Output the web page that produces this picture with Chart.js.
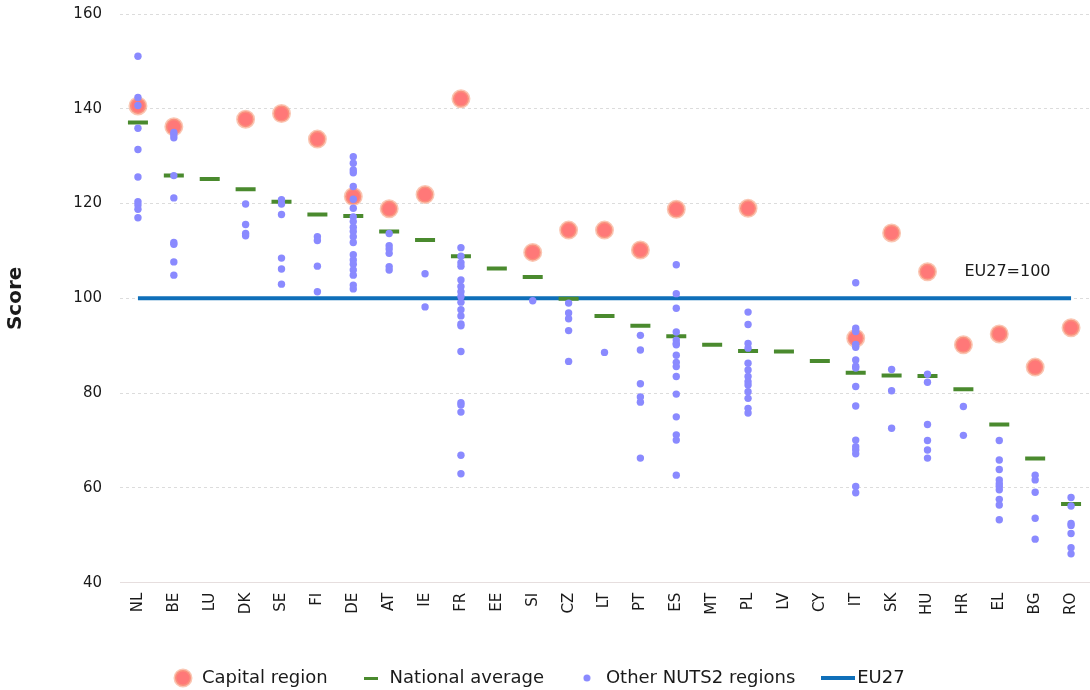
<!DOCTYPE html>
<html>
<head>
<meta charset="utf-8">
<script src="https://cdn.jsdelivr.net/npm/chart.js@4.4.1/dist/chart.umd.min.js"></script>
<style>
html, body { margin: 0; padding: 0; background: #fff; }
</style>
</head>
<body>
<canvas id="nuts_chart" width="1090" height="690"></canvas>
<script>
var countries = ['NL','BE','LU','DK','SE','FI','DE','AT','IE','FR','EE','SI','CZ','LT','PT','ES','MT','PL','LV','CY','IT','SK','HU','HR','EL','BG','RO'];

var capitalRegion = [140.6, 136.2, null, 137.8, 139.0, 133.6, 121.5, 118.9, 121.9, 142.1, null, 109.7, 114.4, 114.4,
    110.2, 118.8, null, 119.0, null, null, 91.6, 113.8, 105.6, 90.2, 92.5, 85.5, 93.8];

var nationalAverage = [137.1, 125.9, 125.2, 123.0, 120.4, 117.7, 117.4, 114.1, 112.3, 108.9, 106.3, 104.5, 99.9, 96.3,
    94.2, 92.0, 90.2, 88.9, 88.8, 86.8, 84.3, 83.7, 83.6, 80.8, 73.4, 66.2, 56.6];

// other NUTS2 regions, one list per country (same order as countries)
var otherRegions = [
    [151.1, 142.4, 140.7, 135.9, 131.4, 125.6, 120.4, 119.7, 118.8, 117.0],
    [135.0, 134.5, 133.9, 125.9, 121.2, 111.8, 111.4, 107.7, 104.9],
    [],
    [119.9, 115.6, 113.7, 113.2],
    [120.8, 119.9, 117.7, 108.5, 106.2, 103.0],
    [113.0, 112.2, 106.8, 101.4],
    [129.9, 128.5, 127.1, 126.5, 123.6, 120.9, 119.0, 117.2, 116.2, 115.0, 114.1, 113.0, 111.8, 109.2, 108.1, 107.2, 106.0, 104.9, 102.8, 102.0],
    [113.7, 111.1, 110.4, 109.5, 106.7, 106.0],
    [105.2, 98.2],
    [110.7, 108.9, 107.5, 106.8, 103.9, 102.5, 101.4, 100.4, 99.2, 97.6, 96.3, 94.6, 94.2, 88.8, 78.0, 77.5, 76.0, 66.9, 63.0],
    [],
    [99.5],
    [99.0, 96.9, 95.7, 93.2, 86.7],
    [88.6],
    [92.2, 89.1, 82.0, 79.2, 78.1, 66.3],
    [107.1, 101.0, 97.9, 92.9, 91.2, 90.5, 90.2, 88.0, 86.5, 85.6, 83.5, 79.8, 75.0, 71.2, 70.1, 62.7],
    [],
    [97.1, 94.5, 90.5, 89.5, 86.3, 84.9, 83.5, 82.4, 81.7, 80.3, 78.9, 76.8, 75.8],
    [],
    [],
    [103.3, 93.7, 93.0, 90.3, 89.7, 87.0, 85.7, 85.3, 81.4, 77.3, 70.1, 68.7, 68.0, 67.2, 60.3, 59.0],
    [85.0, 80.5, 72.6],
    [84.0, 82.3, 73.4, 70.0, 68.0, 66.3],
    [77.2, 71.1],
    [70.0, 65.9, 63.9, 61.7, 60.9, 60.3, 59.6, 57.6, 56.4, 53.3],
    [62.7, 61.7, 59.1, 53.6, 49.2],
    [58.0, 56.2, 52.5, 52.1, 50.4, 47.4, 46.1]
];

var eu27Level = 100;
var yTicks = { min: 40, max: 160, step: 20 };
var noteText = 'EU27=100';
var legendNames = ['Capital region', 'National average', 'Other NUTS2 regions', 'EU27'];

var FONT = '"DejaVu Sans", sans-serif';
var TEXT = '#1a1a1a';
var CAP_FILL = '#ff7878';
var CAP_EDGE = 'rgba(246,160,128,0.6)';
var NAT_GREEN = '#4a8a2e';
var DOT_BLUE = '#8a8aff';
var EU_BLUE = '#0f6fb9';

// flatten the per-country lists into x/y points
var otherPoints = [];
for (let i = 0; i < countries.length; i++) {
    for (let j = 0; j < otherRegions[i].length; j++) {
        otherPoints.push({ x: countries[i], y: otherRegions[i][j] });
    }
}

function makeIcon(w, h, draw) {
    var c = document.createElement('canvas');
    c.width = w; c.height = h;
    draw(c.getContext('2d'), w, h);
    return c;
}
var capIcon = makeIcon(22, 22, function (g) {
    g.beginPath(); g.arc(11, 11, 8, 0, Math.PI * 2);
    g.fillStyle = CAP_FILL; g.fill();
    g.lineWidth = 3; g.strokeStyle = CAP_EDGE; g.stroke();
});
var natIcon = makeIcon(14, 3, function (g, w, h) { g.fillStyle = NAT_GREEN; g.fillRect(0, 0, w, h); });
var dotIcon = makeIcon(8, 8, function (g) {
    g.beginPath(); g.arc(4, 4, 3.5, 0, Math.PI * 2); g.fillStyle = DOT_BLUE; g.fill();
});
var euIcon = makeIcon(34, 4, function (g, w, h) { g.fillStyle = EU_BLUE; g.fillRect(0, 0, w, h); });

var noteLabel = {
    id: 'noteLabel',
    afterDatasetsDraw: function (chart) {
        var ctx = chart.ctx, x = chart.scales.x, y = chart.scales.y;
        ctx.save();
        ctx.font = '16px ' + FONT;
        ctx.fillStyle = TEXT;
        ctx.textBaseline = 'middle';
        ctx.fillText(noteText, x.getPixelForValue(countries.indexOf('HR')) + 1, y.getPixelForValue(105.6));
        ctx.restore();
    }
};

var ctx = document.getElementById('nuts_chart').getContext('2d');
var nutsChart = new Chart(ctx, {
    type: 'line',
    data: {
        labels: countries,
        datasets: [
            {
                label: 'Capital region',
                data: capitalRegion,
                showLine: false,
                pointRadius: 8,
                pointHoverRadius: 8,
                pointBackgroundColor: CAP_FILL,
                pointBorderColor: CAP_EDGE,
                pointBorderWidth: 3,
                order: 3
            },
            {
                label: 'National average',
                data: nationalAverage,
                showLine: false,
                pointStyle: 'line',
                pointRadius: 10,
                pointHoverRadius: 10,
                pointBorderColor: NAT_GREEN,
                pointBorderWidth: 4,
                order: 2
            },
            {
                label: 'Other NUTS2 regions',
                data: otherPoints,
                showLine: false,
                pointRadius: 3.7,
                pointHoverRadius: 3.7,
                pointBackgroundColor: DOT_BLUE,
                pointBorderWidth: 0,
                order: 1
            },
            {
                label: 'EU27',
                data: countries.map(function () { return eu27Level; }),
                borderColor: EU_BLUE,
                borderWidth: 4,
                pointRadius: 0,
                fill: false,
                order: 4
            }
        ]
    },
    options: {
        responsive: false,
        animation: false,
        layout: { autoPadding: false, padding: { top: 14, right: 1, left: 0, bottom: -7 } },
        plugins: {
            tooltip: { enabled: false },
            legend: {
                position: 'bottom',
                labels: {
                    usePointStyle: true,
                    pointStyleWidth: 20,
                    padding: 10,
                    color: TEXT,
                    font: { family: FONT, size: 18 },
                    generateLabels: function () {
                        var icons = [capIcon, natIcon, dotIcon, euIcon];
                        return legendNames.map(function (n, i) {
                            // trailing spaces make the gap between legend entries
                            var pad = i < legendNames.length - 1 ? '    ' : '  ';
                            return { text: n + pad, pointStyle: icons[i], datasetIndex: i, lineWidth: 0,
                                fillStyle: 'transparent', strokeStyle: 'transparent', fontColor: TEXT };
                        });
                    }
                }
            }
        },
        scales: {
            x: {
                offset: true,
                grid: { display: false, drawTicks: false },
                border: { display: true, color: '#e6dede', width: 1 },
                ticks: {
                    autoSkip: false,
                    maxRotation: 90,
                    minRotation: 90,
                    padding: 10,
                    color: TEXT,
                    font: { family: FONT, size: 15 }
                },
                afterFit: function (scale) {
                    scale.paddingLeft = 0;
                    scale.paddingRight = 0;
                    scale.height += 34;
                }
            },
            y: {
                min: yTicks.min,
                max: yTicks.max,
                grid: { color: '#dcdcdc', drawTicks: false },
                border: { display: false, dash: [3, 3] },
                ticks: {
                    stepSize: yTicks.step,
                    padding: 18,
                    color: TEXT,
                    font: { family: FONT, size: 15 }
                },
                title: {
                    display: true,
                    text: 'Score',
                    color: TEXT,
                    font: { family: FONT, size: 20, weight: 'bold' }
                },
                afterFit: function (scale) {
                    scale.width = 120;
                    scale.paddingTop = 0;
                    scale.paddingBottom = 0;
                }
            }
        }
    },
    plugins: [noteLabel]
});
</script>
</body>
</html>
